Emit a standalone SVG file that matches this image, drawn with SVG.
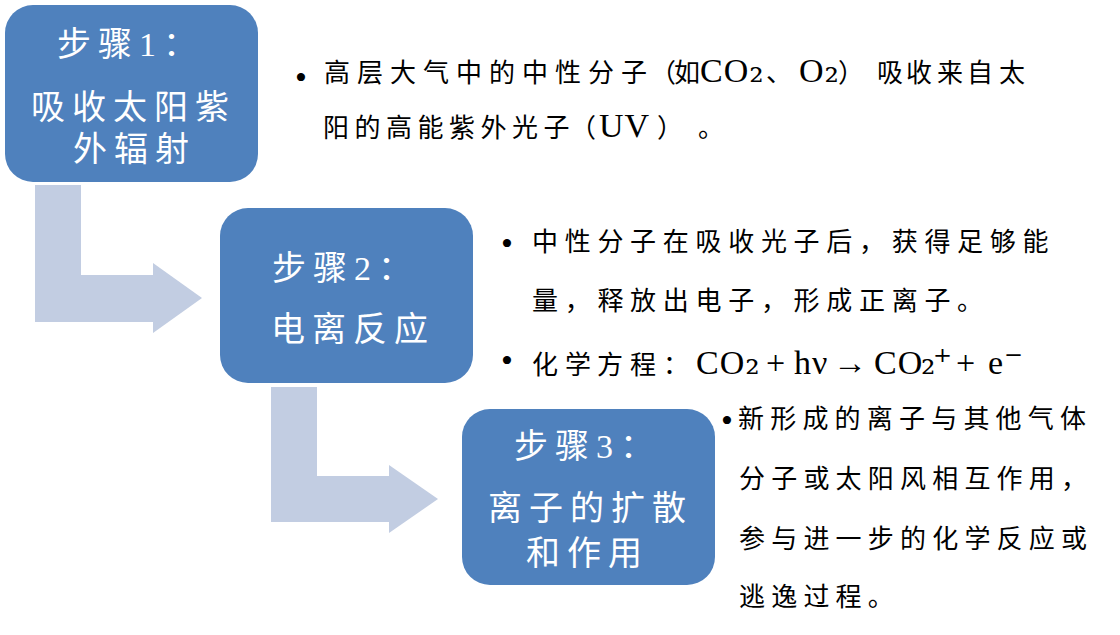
<svg xmlns="http://www.w3.org/2000/svg" width="1120" height="635" viewBox="0 0 1120 635">
  <style>
    .box { fill: #4F81BD; }
    .arrow { fill: #C2CDE2; }
    .lbl { fill: #FFFFFF; font-family: "Liberation Serif", "Noto Sans CJK SC", serif; font-size: 34px; letter-spacing: 7px; }
    .desc { fill: #000000; font-family: "Liberation Serif", "Noto Sans CJK SC", serif; font-size: 26px; }
    .lat { font-family: "Liberation Serif", serif; font-size: 34px; letter-spacing: 1px; }
    .sub { font-family: "DejaVu Serif", serif; font-size: 36px; letter-spacing: -2px; }
    .bul { font-family: "Liberation Serif", serif; font-size: 34px; }
    .tight { letter-spacing: -2px; }
  </style>

  <g id="connectors">
    <path class="arrow" d="M35,185 L81,185 L81,275 L153,275 L153,263 L202,298 L153,333 L153,322 L35,322 Z"/>
    <path class="arrow" d="M271,387 L317,387 L317,476 L389,476 L389,465 L438,499 L389,533 L389,522 L271,522 Z"/>
  </g>

  <g id="step1">
    <rect class="box" x="5" y="5" width="253" height="177" rx="28" ry="28"/>
    <text class="lbl" x="57" y="56">步骤1：</text>
    <text class="lbl" x="31" y="119">吸收太阳紫</text>
    <text class="lbl" x="73" y="161">外辐射</text>
  </g>

  <g id="step2">
    <rect class="box" x="220" y="208" width="253" height="175" rx="28" ry="28"/>
    <text class="lbl" x="272" y="280">步骤2：</text>
    <text class="lbl" x="271" y="341">电离反应</text>
  </g>

  <g id="step3">
    <rect class="box" x="462" y="409" width="253" height="176" rx="28" ry="28"/>
    <text class="lbl" x="514" y="458">步骤3：</text>
    <text class="lbl" x="488" y="520">离子的扩散</text>
    <text class="lbl" x="526" y="565">和作用</text>
  </g>

  <g id="desc1">
    <text class="desc" y="82"><tspan class="bul" x="295" y="89">•</tspan><tspan x="324 357 390 423 456 489 522 555 588 621" y="82">高层大气中的中性分子</tspan><tspan class="tight" x="650">（</tspan><tspan x="674">如</tspan><tspan class="lat" x="700">CO</tspan><tspan class="sub">₂</tspan><tspan x="766">、</tspan><tspan class="lat" x="799">O</tspan><tspan class="sub">₂</tspan><tspan class="tight" x="838">）</tspan><tspan x="877 906 937 967 999">吸收来自太</tspan></text>
    <text class="desc" y="137"><tspan x="323 354.5 386 417.5 449 480.5 512 543.5">阳的高能紫外光子</tspan><tspan class="tight" x="570">（</tspan><tspan class="lat" x="599" letter-spacing="5">UV</tspan><tspan class="tight" x="657">）</tspan><tspan x="698">。</tspan></text>
  </g>

  <g id="desc2">
    <text class="desc" y="251"><tspan class="bul" x="501" y="255">•</tspan><tspan x="532" y="251" letter-spacing="6.7">中性分子在吸收光子后，获得足够能</tspan></text>
    <text class="desc" y="310" x="532" letter-spacing="6.7">量，释放出电子，形成正离子。</text>
    <text class="desc" y="374"><tspan class="bul" x="501" y="372">•</tspan><tspan x="532 565 597 630 663" y="374">化学方程：</tspan><tspan class="lat" x="696">CO</tspan><tspan class="sub">₂</tspan><tspan class="lat" x="766">+</tspan><tspan class="lat" x="794">hν</tspan><tspan class="lat" x="833">→</tspan><tspan class="lat" x="874">CO</tspan><tspan class="sub" x="921 933">₂⁺</tspan><tspan class="lat" x="956">+</tspan><tspan class="lat" x="988">e</tspan><tspan class="sub">⁻</tspan></text>
  </g>

  <g id="desc3">
    <text class="desc" y="428"><tspan class="bul" x="721" y="432">•</tspan><tspan x="738" y="428" letter-spacing="6.2">新形成的离子与其他气体</tspan></text>
    <text class="desc" x="739" y="488" letter-spacing="6.2">分子或太阳风相互作用，</text>
    <text class="desc" x="739" y="548" letter-spacing="6.2">参与进一步的化学反应或</text>
    <text class="desc" x="739" y="606" letter-spacing="6.2">逃逸过程。</text>
  </g>
</svg>
